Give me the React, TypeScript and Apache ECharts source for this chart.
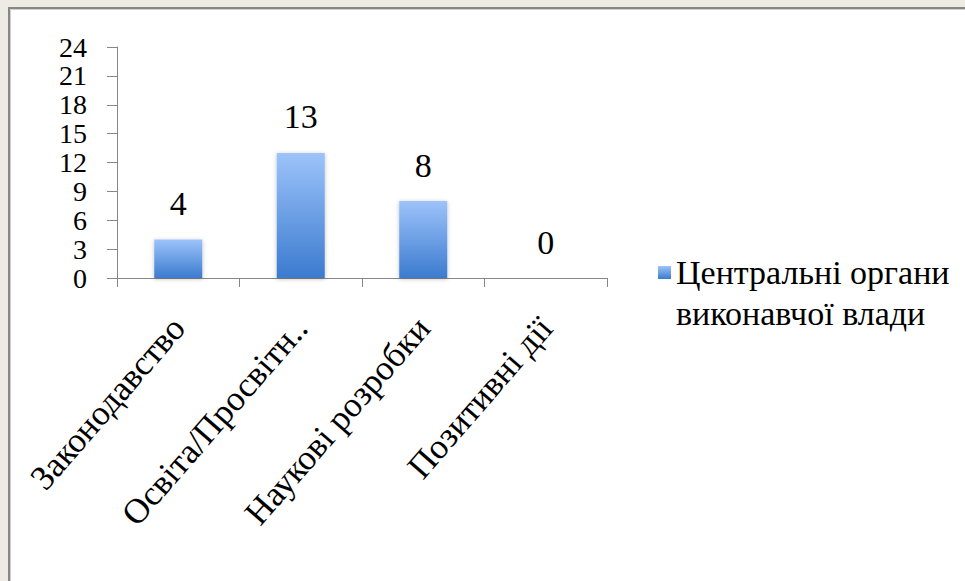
import { useEffect, useRef } from "react";
import * as echarts from "echarts";

const categories = ["Законодавство", "Освіта/Просвітн..", "Наукові розробки", "Позитивні дії"];
const values = [4, 13, 8, 0];
const seriesName = "Центральні органи виконавчої влади";
const legendLines = ["Центральні органи", "виконавчої влади"];
const yMin = 0;
const yMax = 24;
const yInterval = 3;

const FONT = "'Liberation Serif', 'Times New Roman', serif";
const AXIS_COLOR = "#878787";

export default function App() {
  const ref = useRef<HTMLDivElement>(null);

  useEffect(() => {
    if (!ref.current) return;
    const chart = echarts.init(ref.current, undefined, { renderer: "svg" });
    const barGradient = new echarts.graphic.LinearGradient(0, 0, 0, 1, [
      { offset: 0, color: "#9dc3fa" },
      { offset: 1, color: "#3b7bcf" },
    ]);
    const iconGradient = new echarts.graphic.LinearGradient(0, 0, 0, 13 / 54, [
      { offset: 0, color: "#9dc3fa" },
      { offset: 1, color: "#3b7bcf" },
    ]);
    chart.setOption({
      animation: false,
      backgroundColor: "#eeebe4",
      graphic: [
        {
          type: "rect",
          silent: true,
          z: -10,
          shape: { x: 9, y: 8, width: 2000, height: 2000 },
          style: { fill: "#ffffff", stroke: AXIS_COLOR, lineWidth: 2 },
        },
        {
          type: "rect",
          silent: true,
          z: -9,
          shape: { x: 10.5, y: 9.5, width: 2000, height: 2000 },
          style: { fill: "none", stroke: "#cfcfcf", lineWidth: 1 },
        },
      ],
      grid: { left: 117, right: 358, top: 47, bottom: 303, containLabel: false },
      legend: {
        left: 658,
        top: 252,
        padding: 0,
        data: [
          {
            name: seriesName,
            icon: "path://M0,0h13v13h-13z M0,54h0.01",
            itemStyle: { color: iconGradient },
          },
        ],
        itemWidth: 13,
        itemHeight: 54,
        formatter: () => legendLines.join("\n"),
        textStyle: { fontFamily: FONT, fontSize: 34, color: "#000", lineHeight: 41 },
      },
      xAxis: {
        type: "category",
        data: categories,
        boundaryGap: true,
        axisLine: { show: true, lineStyle: { color: AXIS_COLOR, width: 1 } },
        axisTick: { show: true, length: 9, alignWithLabel: false, lineStyle: { color: AXIS_COLOR } },
        axisLabel: {
          interval: 0,
          rotate: 49,
          margin: 44,
          fontFamily: FONT,
          fontSize: 35,
          color: "#000",
          hideOverlap: false,
        },
        splitLine: { show: false },
      },
      yAxis: {
        type: "value",
        min: yMin,
        max: yMax,
        interval: yInterval,
        axisLine: { show: true, lineStyle: { color: AXIS_COLOR, width: 1 } },
        axisTick: { show: true, length: 10, lineStyle: { color: AXIS_COLOR } },
        axisLabel: {
          margin: 30,
          fontFamily: FONT,
          fontSize: 28,
          color: "#000",
          showMinLabel: true,
          showMaxLabel: true,
          hideOverlap: false,
        },
        splitLine: { show: false },
      },
      series: [
        {
          name: seriesName,
          type: "bar",
          data: values,
          barWidth: 48,
          itemStyle: {
            color: barGradient,
            shadowColor: "rgba(0,0,0,0.25)",
            shadowBlur: 4,
            shadowOffsetY: 1,
          },
          label: {
            show: true,
            position: "top",
            distance: 19,
            fontFamily: FONT,
            fontSize: 34,
            color: "#000",
          },
        },
      ],
    });
    return () => chart.dispose();
  }, []);

  return (
    <div
      ref={ref}
      style={{ position: "fixed", left: 0, top: 0, width: 965, height: 581 }}
    />
  );
}
